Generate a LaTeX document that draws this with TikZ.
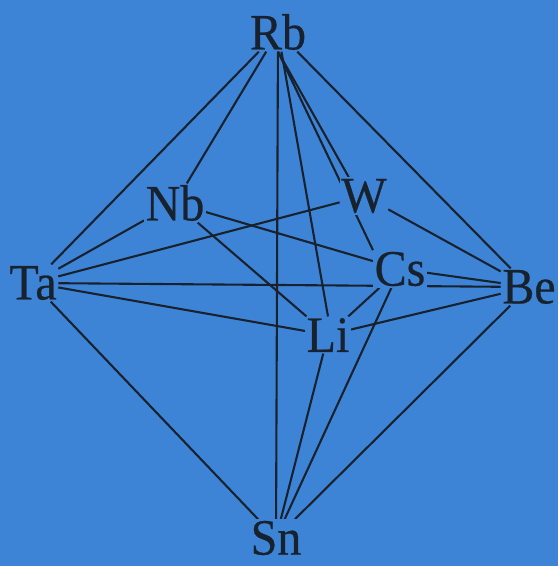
\documentclass[tikz,border=0pt]{standalone}
\usepackage{fontspec}
\newfontfamily\elfont[FakeStretch=0.94,FakeBold=0.5]{Liberation Serif}
\usepackage{tikz}
\usetikzlibrary{backgrounds}

\definecolor{paperblue}{RGB}{62,132,214}
\definecolor{inkdark}{RGB}{24,34,46}

\begin{document}
\begin{tikzpicture}[
  x=1pt, y=-1pt,
  elem/.style={fill=paperblue, text=inkdark, inner sep=1.5pt, font=\elfont\fontsize{51}{51}\selectfont},
  bond/.style={draw=inkdark, line width=2.1pt}
]
\useasboundingbox (0,0) rectangle (558,566);
\node[elem] (rb) at (278,32) {Rb};
\node[elem] (nb) at (175,203) {Nb};
\node[elem] (w) at (364,196) {W};
\node[elem] (ta) at (33,283) {Ta};
\node[elem] (cs) at (400,269) {Cs};
\node[elem] (be) at (529,287) {Be};
\node[elem] (li) at (328,335) {Li};
\node[elem] (sn) at (276,538) {Sn};
\begin{scope}[on background layer]
\fill[paperblue] (0,0) rectangle (558,566);
\draw[bond] (rb) -- (ta);
\draw[bond] (rb) -- (nb);
\draw[bond] (rb) -- (sn);
\draw[bond] (rb) -- (li.north);
\draw[bond] (rb.south) -- (w.129);
\draw[bond] (rb.south) -- (cs.north west);
\draw[bond] (rb) -- (be);
\draw[bond] (ta) -- (nb);
\draw[bond] (ta) -- (w);
\draw[bond] (ta) -- (be);
\draw[bond] (ta) -- (li);
\draw[bond] (ta) -- (sn);
\draw[bond] (nb) -- (cs);
\draw[bond] (nb) -- (li);
\draw[bond] (w) -- (be);
\draw[bond] (cs) -- (be);
\draw[bond] (cs) -- (li);
\draw[bond] (cs) -- (sn);
\draw[bond] (li) -- (be);
\draw[bond] (li) -- (sn);
\draw[bond] (sn) -- (be);
\end{scope}
\end{tikzpicture}
\end{document}
